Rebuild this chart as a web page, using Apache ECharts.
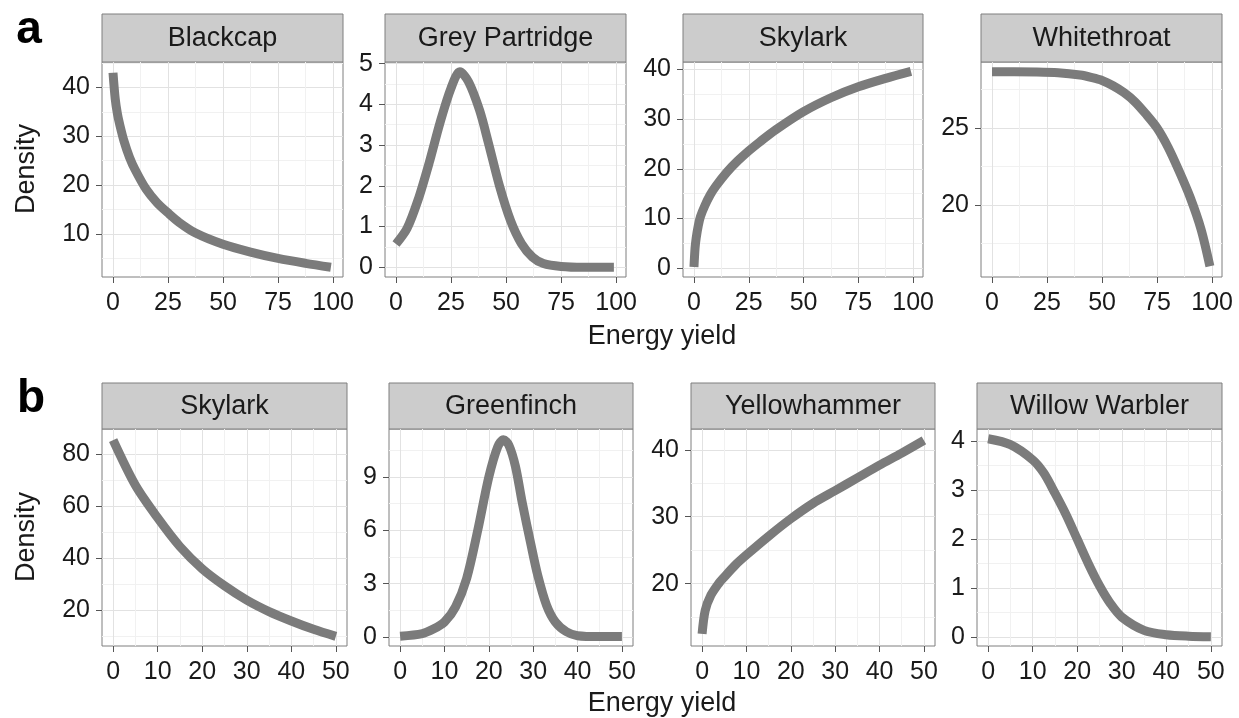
<!DOCTYPE html>
<html>
<head>
<meta charset="utf-8">
<title>Density vs energy yield</title>
<script src="https://cdn.jsdelivr.net/npm/echarts@6/dist/echarts.min.js"></script>
<style>
  html, body { margin: 0; padding: 0; background: #fff; }
  #chart { width: 1239px; height: 718px; }
</style>
</head>
<body>
<div id="chart"></div>
<script>
// ---- data ----
var blackcapX = [0, 1, 2, 3, 5, 7.5, 10, 15, 20, 25, 30, 37.5, 50, 62.5, 75, 87.5, 99];
var blackcapY = [43, 37.7, 34.6, 32.5, 29, 25.7, 23.2, 19.2, 16.4, 14.3, 12.4, 10.2, 7.9, 6.3, 5.0, 4.0, 3.2];

var partridgeX = [0, 5, 10, 15, 20, 25, 29, 33, 38, 42, 47, 52, 57, 62, 67, 75, 85, 99];
var partridgeY = [0.57, 0.95, 1.65, 2.55, 3.55, 4.4, 4.8, 4.55, 3.85, 3.05, 2.0, 1.15, 0.58, 0.25, 0.09, 0.02, 0.0, 0.0];

var skylarkAX = [0, 0.5, 1, 2, 3, 5, 7.5, 10, 15, 20, 25, 30, 37.5, 50, 62.5, 75, 87.5, 99];
var skylarkAY = [0.2, 4, 6, 8.6, 10.4, 12.6, 14.8, 16.5, 19.3, 21.6, 23.6, 25.4, 27.9, 31.5, 34.3, 36.5, 38.2, 39.6];

var whitethroatX = [0, 10, 20, 30, 40, 45, 50, 55, 60, 65, 70, 75, 80, 85, 90, 95, 99];
var whitethroatY = [28.66, 28.66, 28.65, 28.6, 28.45, 28.3, 28.1, 27.75, 27.3, 26.7, 25.9, 25.0, 23.75, 22.2, 20.5, 18.4, 16.0];

var skylarkBX = [0, 5, 10, 15, 20, 25, 30, 35, 40, 45, 50];
var skylarkBY = [85.3, 68, 55.5, 44.5, 36, 29.5, 24, 19.6, 16, 12.8, 10.1];

var greenfinchX = [0, 5, 7.5, 10, 12.5, 15, 17.5, 20, 22, 23.3, 24.5, 26, 27.5, 29.5, 31, 33, 35, 37.5, 40, 45, 50];
var greenfinchY = [0.05, 0.2, 0.45, 0.85, 1.7, 3.3, 6.0, 9.0, 10.7, 11.1, 10.8, 9.6, 7.6, 5.2, 3.5, 1.8, 0.85, 0.3, 0.08, 0.03, 0.03];

var yellowhammerX = [0, 0.7, 2, 3.7, 5, 7.5, 10, 15, 20, 25, 30, 35, 40, 45, 50];
var yellowhammerY = [12.5, 16, 18.3, 20, 21, 22.8, 24.3, 27.1, 29.7, 32, 33.9, 35.8, 37.7, 39.5, 41.4];

var warblerX = [0, 5, 10, 12.5, 15, 17.5, 20, 22.5, 25, 27.5, 30, 35, 40, 45, 50];
var warblerY = [4.05, 3.93, 3.62, 3.35, 2.94, 2.5, 2.0, 1.5, 1.05, 0.68, 0.41, 0.14, 0.05, 0.02, 0.01];

// ---- tick labels ----
var xTicksA = [0, 25, 50, 75, 100];
var xMinorA = [12.5, 37.5, 62.5, 87.5];
var xTicksB = [0, 10, 20, 30, 40, 50];
var xMinorB = [5, 15, 25, 35, 45];

var blackcapTicks = [10, 20, 30, 40];
var blackcapMinor = [5, 15, 25, 35, 45];
var partridgeTicks = [0, 1, 2, 3, 4, 5];
var partridgeMinor = [0.5, 1.5, 2.5, 3.5, 4.5];
var skylarkATicks = [0, 10, 20, 30, 40];
var skylarkAMinor = [5, 15, 25, 35];
var whitethroatTicks = [20, 25];
var whitethroatMinor = [17.5, 22.5, 27.5];
var skylarkBTicks = [20, 40, 60, 80];
var skylarkBMinor = [10, 30, 50, 70];
var greenfinchTicks = [0, 3, 6, 9];
var greenfinchMinor = [1.5, 4.5, 7.5, 10.5];
var yellowhammerTicks = [20, 30, 40];
var yellowhammerMinor = [15, 25, 35];
var warblerTicks = [0, 1, 2, 3, 4];
var warblerMinor = [0.5, 1.5, 2.5, 3.5];

// ---- panel layout ----
var FONT = '"Liberation Sans", Arial, sans-serif';
var TEXT = '#1a1a1a';
var BORDER = '#7f7f7f';

var panels = [
    { name: 'Blackcap', x: blackcapX, y: blackcapY, left: 102, top: 62, width: 241, height: 215, strip: 14,
      xr: [-5, 104.5], yr: [1.2, 45.2], xt: xTicksA, xm: xMinorA, yt: blackcapTicks, ym: blackcapMinor },
    { name: 'Grey Partridge', x: partridgeX, y: partridgeY, left: 385, top: 62, width: 241, height: 215, strip: 14,
      xr: [-5, 104.5], yr: [-0.24, 5.04], xt: xTicksA, xm: xMinorA, yt: partridgeTicks, ym: partridgeMinor },
    { name: 'Skylark', x: skylarkAX, y: skylarkAY, left: 683, top: 62, width: 240, height: 215, strip: 14,
      xr: [-5, 104.5], yr: [-1.8, 41.5], xt: xTicksA, xm: xMinorA, yt: skylarkATicks, ym: skylarkAMinor },
    { name: 'Whitethroat', x: whitethroatX, y: whitethroatY, left: 981, top: 62, width: 241, height: 215, strip: 14,
      xr: [-5, 104.5], yr: [15.3, 29.3], xt: xTicksA, xm: xMinorA, yt: whitethroatTicks, ym: whitethroatMinor },
    { name: 'Skylark', x: skylarkBX, y: skylarkBY, left: 102, top: 429, width: 245, height: 217, strip: 383,
      xr: [-2.5, 52.5], yr: [6.4, 89.6], xt: xTicksB, xm: xMinorB, yt: skylarkBTicks, ym: skylarkBMinor },
    { name: 'Greenfinch', x: greenfinchX, y: greenfinchY, left: 389, top: 429, width: 244, height: 217, strip: 383,
      xr: [-2.5, 52.5], yr: [-0.5, 11.7], xt: xTicksB, xm: xMinorB, yt: greenfinchTicks, ym: greenfinchMinor },
    { name: 'Yellowhammer', x: yellowhammerX, y: yellowhammerY, left: 691, top: 429, width: 244, height: 217, strip: 383,
      xr: [-2.5, 52.5], yr: [10.7, 43.1], xt: xTicksB, xm: xMinorB, yt: yellowhammerTicks, ym: yellowhammerMinor },
    { name: 'Willow Warbler', x: warblerX, y: warblerY, left: 977, top: 429, width: 245, height: 217, strip: 383,
      xr: [-2.5, 52.5], yr: [-0.18, 4.25], xt: xTicksB, xm: xMinorB, yt: warblerTicks, ym: warblerMinor }
];

function mainAxis(dim, gi, range, ticks) {
    return {
        type: 'value', gridIndex: gi, min: range[0], max: range[1],
        position: dim === 'x' ? 'bottom' : 'left',
        axisLine: { show: false, onZero: false },
        axisTick: { show: true, length: 6, customValues: ticks, lineStyle: { color: '#555', width: 1 } },
        axisLabel: { show: true, customValues: ticks, margin: dim === 'x' ? 14 : 12,
                     fontSize: 25, fontFamily: FONT, color: TEXT },
        splitLine: { show: true, lineStyle: { color: '#e2e2e2', width: 1 } }
    };
}

// second, hidden axis that only draws the minor grid lines
function minorAxis(dim, gi, range, ticks) {
    return {
        type: 'value', gridIndex: gi, min: range[0], max: range[1],
        position: dim === 'x' ? 'top' : 'right',
        axisLine: { show: false, onZero: false },
        axisTick: { show: false, customValues: ticks },
        axisLabel: { show: false },
        splitLine: { show: true, lineStyle: { color: '#f1f1f1', width: 1 } }
    };
}

function label(txt, x, y, size, extra) {
    var el = {
        type: 'text', x: x, y: y, silent: true,
        style: {
            text: txt, fill: TEXT, font: size + 'px ' + FONT,
            align: 'center', verticalAlign: 'middle',
            textAlign: 'center', textVerticalAlign: 'middle'
        }
    };
    for (var k in extra || {}) el[k] = extra[k];
    return el;
}

var grid = [], xAxis = [], yAxis = [], series = [], graphic = [];

panels.forEach(function (p, i) {
    grid.push({
        left: p.left, top: p.top, width: p.width, height: p.height,
        show: true, backgroundColor: '#fff', borderColor: BORDER, borderWidth: 1
    });
    xAxis.push(mainAxis('x', i, p.xr, p.xt));
    xAxis.push(minorAxis('x', i, p.xr, p.xm));
    yAxis.push(mainAxis('y', i, p.yr, p.yt));
    yAxis.push(minorAxis('y', i, p.yr, p.ym));

    series.push({
        type: 'line', name: p.name,
        xAxisIndex: 2 * i, yAxisIndex: 2 * i,
        data: p.x.map(function (v, j) { return [v, p.y[j]]; }),
        showSymbol: false, symbol: 'none',
        smooth: 0.3,
        lineStyle: { color: '#7b7b7b', width: 9, cap: 'butt', join: 'round' },
        silent: true, animation: false
    });

    // facet strip
    var sh = p.top - p.strip;
    graphic.push({
        type: 'rect', silent: true,
        shape: { x: p.left, y: p.strip, width: p.width, height: sh },
        style: { fill: '#cccccc', stroke: BORDER, lineWidth: 1 }
    });
    graphic.push(label(p.name, p.left + p.width / 2, p.strip + sh / 2 + 1, 27));
});

// axis titles and panel letters
graphic.push(label('Density', 27, 169, 27, { rotation: Math.PI / 2 }));
graphic.push(label('Density', 27, 537, 27, { rotation: Math.PI / 2 }));
graphic.push(label('Energy yield', 662, 337, 27));
graphic.push(label('Energy yield', 662, 704, 27));
graphic.push({
    type: 'text', x: 29, y: 53, silent: true,
    style: { text: 'a', fill: '#000', font: 'bold 46px ' + FONT,
             align: 'center', verticalAlign: 'bottom', textAlign: 'center', textVerticalAlign: 'bottom' }
});
graphic.push({
    type: 'text', x: 31, y: 422, silent: true,
    style: { text: 'b', fill: '#000', font: 'bold 46px ' + FONT,
             align: 'center', verticalAlign: 'bottom', textAlign: 'center', textVerticalAlign: 'bottom' }
});

var chart = echarts.init(document.getElementById('chart'), null, { renderer: 'canvas' });
chart.setOption({
    backgroundColor: '#fff',
    animation: false,
    grid: grid,
    xAxis: xAxis,
    yAxis: yAxis,
    series: series,
    graphic: graphic
});
</script>
</body>
</html>
